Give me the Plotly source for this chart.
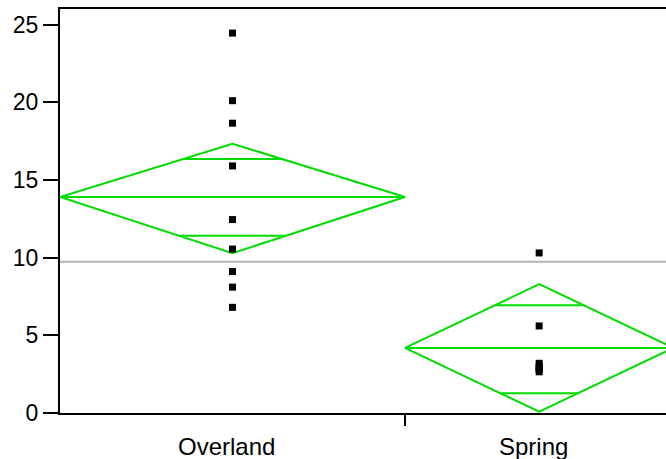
import math
import plotly.graph_objects as go

# ---- data ----
groups = ["Overland", "Spring"]
counts = [9, 7]                      # group sizes (diamond widths)
overland_vals = [24.45, 20.1, 18.65, 15.9, 12.45, 10.55, 9.1, 8.1, 6.8]
spring_vals = [10.3, 5.6, 3.2, 3.0, 2.9, 2.8, 2.65]
means = [13.9, 4.19]
ci_upper = [17.33, 8.29]
ci_lower = [10.29, 0.08]
overlap_upper = [16.35, 6.94]
overlap_lower = [11.40, 1.27]
grand_mean = 9.73
y_ticks = [0, 5, 10, 15, 20, 25]

GREEN = "rgb(0,220,0)"
values = [overland_vals, spring_vals]

lefts = [sum(counts[:i]) for i in range(len(counts))]
rights = [lefts[i] + counts[i] for i in range(len(counts))]
centers = [(lefts[i] + rights[i]) / 2 for i in range(len(counts))]

fig = go.Figure()

# grand mean line
fig.add_trace(go.Scatter(x=[0, sum(counts) + 5], y=[grand_mean, grand_mean], mode="lines",
                         line=dict(color="#b4b4b4", width=2), hoverinfo="skip"))

for i in range(len(groups)):
    L, R, C = lefts[i], rights[i], centers[i]
    m, up, lo = means[i], ci_upper[i], ci_lower[i]
    # diamond
    fig.add_trace(go.Scatter(x=[L, C, R, C, L], y=[m, up, m, lo, m], mode="lines",
                             line=dict(color=GREEN, width=2), hoverinfo="skip"))
    # mean line
    fig.add_trace(go.Scatter(x=[L, R], y=[m, m], mode="lines",
                             line=dict(color=GREEN, width=2), hoverinfo="skip"))
    # overlap marks
    half = (R - L) / 2
    for yv, ext in ((overlap_upper[i], up), (overlap_lower[i], lo)):
        frac = abs(yv - m) / abs(ext - m)
        fig.add_trace(go.Scatter(x=[L + half * frac, R - half * frac], y=[yv, yv], mode="lines",
                                 line=dict(color=GREEN, width=2), hoverinfo="skip"))
    # points
    fig.add_trace(go.Scatter(x=[C] * len(values[i]), y=values[i], mode="markers",
                             marker=dict(symbol="square", size=7, color="black"),
                             hoverinfo="skip"))
    # category label
    fig.add_annotation(x=C, y=0, xref="x", yref="paper", text=groups[i], showarrow=False,
                       yanchor="top", yshift=-18, xshift=-6,
                       font=dict(family="Liberation Sans, Arial", size=24, color="black"))

px_per_unit = 345 / counts[0]
x_max = (666 - 60) / px_per_unit

fig.update_layout(
    width=666, height=459,
    margin=dict(l=60, r=0, t=9, b=46),
    paper_bgcolor="white", plot_bgcolor="white",
    showlegend=False,
    font=dict(family="Liberation Sans, Arial", size=23, color="black"),
    xaxis=dict(range=[0, x_max], showgrid=False, zeroline=False,
               showline=True, linecolor="black", linewidth=2, mirror=True,
               tickvals=rights[:-1], ticktext=[""] * (len(rights) - 1),
               ticks="outside", ticklen=11, tickwidth=2, tickcolor="black"),
    yaxis=dict(range=[0, 26], showgrid=False, zeroline=False,
               showline=True, linecolor="black", linewidth=2,
               tickvals=y_ticks, ticks="outside", ticklen=15, tickwidth=2, tickcolor="black",
               tickfont=dict(size=23)),
)

fig.write_html("out.html", config={"displayModeBar": False},
               post_script="document.body.style.margin='0';document.body.style.overflow='hidden';")
